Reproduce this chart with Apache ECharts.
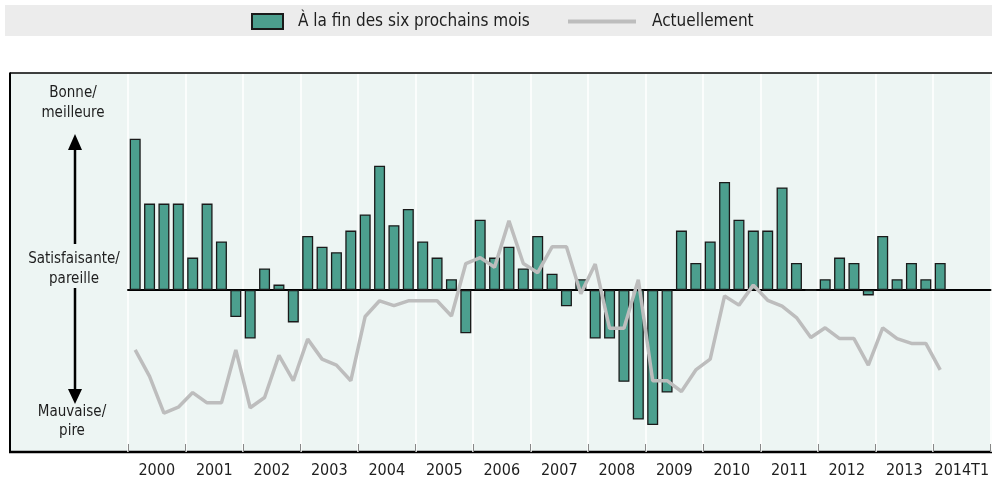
<!DOCTYPE html>
<html>
<head>
<meta charset="utf-8">
<title>Conditions</title>
<script src="https://cdn.jsdelivr.net/npm/echarts@6/dist/echarts.min.js"></script>
<style>
  html, body { margin: 0; padding: 0; background: #fff; }
  #chart { width: 992px; height: 484px; }
</style>
</head>
<body>
<div id="chart"></div>
<script>
// donnees trimestrielles, 2000T1 a 2014T1
var years = ['2000', '2001', '2002', '2003', '2004', '2005', '2006', '2007',
  '2008', '2009', '2010', '2011', '2012', '2013', '2014T1'];
var quarterNames = ['T1', 'T2', 'T3', 'T4'];

var sixMonths = [28, 16, 16, 16, 6, 16, 9, -5, -9, 4, 1, -6, 10, 8, 7, 11,
  14, 23, 12, 15, 9, 6, 2, -8, 13, 6, 8, 4, 10, 3, -3, 2,
  -9, -9, -17, -24, -25, -19, 11, 5, 9, 20, 13, 11, 11, 19,
  5, 0, 2, 6, 5, -1, 10, 2, 5, 2, 5];

var current = [-11.1, -16, -22.8, -21.7, -19, -20.9, -20.9, -11.1, -21.8, -19.9,
  -12.1, -16.8, -9.1, -12.8, -13.9, -16.8, -4.9, -2, -2.9, -2,
  -2, -2, -4.8, 4.9, 6, 4.2, 12.8, 4.9, 3.2, 8,
  8, -0.7, 4.8, -7.1, -7.1, 1.9, -16.8, -16.8, -18.8, -14.8,
  -12.8, -1.1, -2.8, 0.9, -1.9, -3, -5.1, -8.8, -7, -9,
  -9, -13.9, -7, -9, -9.9, -9.9, -14.8];

var quarters = [];
years.forEach(function (y) {
  quarterNames.forEach(function (q) { quarters.push(y.slice(0, 4) + q); });
});

var font = '"Liberation Sans Narrow", "DejaVu Sans Condensed", sans-serif';
var ink = '#1e1e1e';

function txt(x, y, s) {
  return {
    type: 'text', x: x, y: y,
    style: { text: s, font: '15px ' + font, fill: ink, align: 'center', verticalAlign: 'middle' }
  };
}

var chart = echarts.init(document.getElementById('chart'));
chart.setOption({
  animation: false,
  backgroundColor: '#fff',
  grid: { left: 128, right: 0, top: 74, bottom: 32 },
  legend: [{
    data: ['À la fin des six prochains mois'],
    left: 251, top: 13, padding: 0,
    icon: 'rect', itemWidth: 31, itemHeight: 15,
    textStyle: { fontFamily: font, fontSize: 17, color: ink, padding: [0, 0, 0, 10] }
  }, {
    data: ['Actuellement'],
    left: 568, top: 13, padding: 0,
    icon: 'rect', itemWidth: 68, itemHeight: 4,
    textStyle: { fontFamily: font, fontSize: 17, color: ink, padding: [0, 0, 0, 11] }
  }],
  xAxis: [{
    type: 'category',
    data: quarters,
    position: 'top',
    axisLine: { onZero: true, lineStyle: { color: '#000', width: 2 } },
    axisTick: { show: false },
    axisLabel: { show: false },
    splitLine: { show: false }
  }, {
    type: 'category',
    data: years,
    position: 'bottom',
    axisLine: { show: false, onZero: false },
    axisTick: { show: true, inside: true, length: 8, interval: 0, lineStyle: { color: '#888' } },
    axisLabel: { interval: 0, margin: 11, fontFamily: font, fontSize: 16, color: ink },
    splitLine: { show: true, interval: 0, lineStyle: { color: '#fff', width: 1.5 } }
  }],
  yAxis: {
    type: 'value', min: -30, max: 40,
    axisLine: { show: false }, axisTick: { show: false },
    axisLabel: { show: false }, splitLine: { show: false }
  },
  series: [{
    name: 'À la fin des six prochains mois',
    type: 'bar',
    data: sixMonths,
    barWidth: 11,
    itemStyle: { color: '#4c9f8e', borderColor: '#1a1a1a', borderWidth: 1.3 }
  }, {
    name: 'Actuellement',
    type: 'line',
    data: current,
    symbol: 'none',
    z: 5,
    lineStyle: { color: '#bdbdbd', width: 3.5 },
    itemStyle: { color: '#bdbdbd' }
  }],
  graphic: [
    { type: 'rect', z: -100, shape: { x: 5, y: 5, width: 992, height: 31 }, style: { fill: '#ececec' } },
    { type: 'rect', z: -100, shape: { x: 10, y: 73, width: 990, height: 379 }, style: { fill: '#edf5f3' } },
    { type: 'line', shape: { x1: 10, y1: 73, x2: 992, y2: 73 }, style: { stroke: '#000', lineWidth: 1.5 } },
    { type: 'line', shape: { x1: 10, y1: 72.5, x2: 10, y2: 453 }, style: { stroke: '#000', lineWidth: 2 } },
    { type: 'line', shape: { x1: 9, y1: 452, x2: 992, y2: 452 }, style: { stroke: '#000', lineWidth: 2.5 } },
    { type: 'line', shape: { x1: 75, y1: 148, x2: 75, y2: 244 }, style: { stroke: '#000', lineWidth: 2.5 } },
    { type: 'polygon', shape: { points: [[75, 134], [68, 150], [82, 150]] }, style: { fill: '#000' } },
    { type: 'line', shape: { x1: 75, y1: 288, x2: 75, y2: 391 }, style: { stroke: '#000', lineWidth: 2.5 } },
    { type: 'polygon', shape: { points: [[75, 404], [68, 389], [82, 389]] }, style: { fill: '#000' } },
    txt(73, 93, 'Bonne/'),
    txt(73, 113, 'meilleure'),
    txt(74, 259, 'Satisfaisante/'),
    txt(74, 279, 'pareille'),
    txt(72, 412, 'Mauvaise/'),
    txt(72, 431, 'pire')
  ]
});
</script>
</body>
</html>
